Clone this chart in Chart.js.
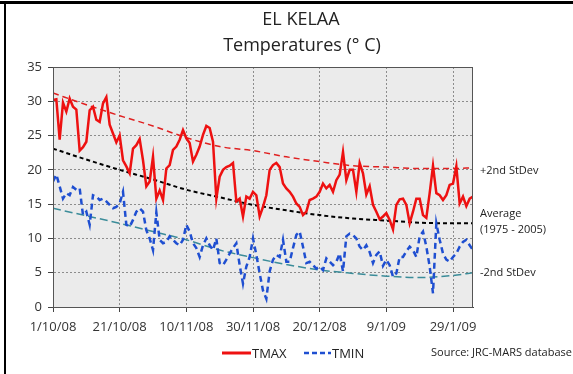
<!DOCTYPE html>
<html>
<head>
<meta charset="utf-8">
<script src="https://cdn.jsdelivr.net/npm/chart.js@4.4.1/dist/chart.umd.min.js"></script>
<style>
  html, body { margin: 0; padding: 0; background: #fff; }
  #wrap { position: relative; width: 573px; height: 374px; }
  #frameTop { position: absolute; left: 0; top: 1px; width: 573px; height: 3px; background: #000; }
  #frameLeft { position: absolute; left: 4px; top: 1px; width: 2px; height: 373px; background: #000; }
</style>
</head>
<body>
<div id="wrap">
  <canvas id="chart" width="573" height="374"></canvas>
  <div id="frameTop"></div>
  <div id="frameLeft"></div>
</div>
<script>
// x ticks every 20 days starting 1/10/08
const xLabels = ["1/10/08", "21/10/08", "10/11/08", "30/11/08", "20/12/08", "9/1/09", "29/1/09"];

// daily values, day 0 = 1/10/08
const tmax = [
  30.2, 30.3, 24.4, 29.8, 28.5, 30.4, 29.2, 28.8, 22.8, 23.3,
  24.1, 28.7, 29.2, 27.3, 27.0, 29.7, 30.6, 26.6, 25.3, 24.0,
  25.0, 21.4, 20.5, 19.5, 23.1, 23.6, 24.5, 21.4, 17.6, 18.3,
  21.9, 15.8, 17.0, 15.6, 20.2, 20.7, 22.9, 23.4, 24.4, 25.8,
  24.6, 23.9, 21.2, 22.2, 23.4, 25.1, 26.4, 26.1, 24.1, 15.8,
  19.0, 20.0, 20.4, 20.6, 21.0, 15.4, 15.8, 13.2, 16.1, 15.8,
  16.8, 16.3, 13.2, 14.6, 16.3, 20.0, 20.7, 21.0, 20.4, 18.0,
  17.3, 16.8, 16.1, 15.1, 14.6, 13.4, 13.9, 15.6, 15.8, 16.1,
  16.8, 18.0, 17.3, 17.8, 16.8, 18.5, 19.3, 22.6, 18.5, 20.0,
  20.0, 16.8, 21.0, 19.5, 16.4, 17.6, 14.9, 13.9, 12.8, 13.2,
  13.7, 12.7, 11.3, 14.9, 15.7, 15.8, 14.9, 12.2, 13.9, 15.8,
  15.8, 13.4, 13.0, 16.6, 20.6, 16.6, 16.3, 15.6, 16.3, 17.8,
  18.0, 20.5, 15.1, 16.1, 14.7, 15.8, 16.1
];

const tmin = [
  18.3, 19.3, 17.6, 15.8, 16.6, 16.3, 17.5, 17.1, 17.3, 13.4,
  13.9, 12.0, 16.3, 16.1, 15.6, 15.8, 15.4, 14.9, 14.4, 14.6,
  15.1, 16.8, 12.0, 11.7, 12.7, 13.9, 14.4, 13.9, 11.2, 10.0,
  8.3, 13.8, 9.8, 9.3, 9.5, 10.3, 9.8, 9.3, 9.0, 9.8,
  12.0, 11.0, 9.3, 8.6, 7.3, 9.0, 10.0, 9.0, 8.3, 10.0,
  6.4, 6.1, 6.9, 7.8, 8.6, 9.3, 6.1, 3.4, 5.9, 7.3,
  10.0, 7.6, 4.9, 2.4, 1.2, 5.2, 6.9, 7.6, 7.3, 9.8,
  6.6, 6.6, 8.6, 10.5, 11.0, 8.8, 6.4, 6.6, 6.1, 5.6,
  5.9, 5.4, 7.1, 6.6, 6.1, 6.6, 7.8, 5.2, 10.3, 10.7,
  10.5, 10.0, 8.8, 8.3, 9.0, 8.0, 6.4, 7.6, 8.1, 6.0,
  6.9, 6.1, 4.4, 4.9, 7.3, 7.3, 8.1, 8.8, 8.3, 7.3,
  10.3, 11.0, 8.8, 5.9, 2.0, 12.2, 9.8, 7.8, 6.9, 6.6,
  7.3, 7.8, 8.8, 9.5, 9.8, 9.0, 8.3
];

// long-term reference curves (1975 - 2005), read every 10 days
const refDays  = [0, 10, 20, 30, 40, 50, 60, 70, 80, 90, 100, 110, 120, 126];
const plus2sd  = [31.2, 29.5, 27.9, 26.4, 24.7, 23.4, 22.8, 21.9, 21.2, 20.6, 20.4, 20.2, 20.2, 20.3];
const average  = [23.1, 21.5, 20.0, 18.6, 17.1, 16.0, 14.9, 14.1, 13.4, 12.9, 12.6, 12.3, 12.2, 12.2];
const minus2sd = [14.4, 13.3, 12.2, 11.0, 9.8, 8.3, 7.2, 6.2, 5.4, 4.9, 4.5, 4.3, 4.6, 5.0];

const FONT = "'Open Sans', 'DejaVu Sans', sans-serif";
const RED = "#ee1111";
const BLUE = "#1f4fd1";

const daily = arr => arr.map((v, i) => ({ x: i, y: v }));
const ref = arr => arr.map((v, i) => ({ x: refDays[i], y: v }));

const decor = {
  id: "decor",
  beforeDraw(chart) {
    const { ctx, chartArea: a } = chart;
    ctx.save();
    ctx.fillStyle = "#ebebeb";
    ctx.fillRect(a.left, a.top, a.right - a.left, a.bottom - a.top);
    ctx.restore();
  },
  afterDraw(chart) {
    const { ctx, chartArea: a, scales } = chart;
    ctx.save();
    // plot frame
    ctx.strokeStyle = "#555";
    ctx.lineWidth = 1;
    ctx.strokeRect(a.left + 0.5, a.top + 0.5, a.right - a.left - 1, a.bottom - a.top);

    // title
    ctx.fillStyle = "#222";
    ctx.textAlign = "center";
    ctx.textBaseline = "middle";
    ctx.font = "18px " + FONT;
    ctx.fillText("EL KELAA", 301, 20);
    ctx.fillText("Temperatures (\u00b0 C)", 302, 46);

    // legend
    ctx.lineWidth = 3;
    ctx.strokeStyle = RED;
    ctx.beginPath(); ctx.moveTo(222, 353); ctx.lineTo(251, 353); ctx.stroke();
    ctx.strokeStyle = BLUE;
    ctx.lineWidth = 2.5;
    ctx.setLineDash([5, 3]);
    ctx.beginPath(); ctx.moveTo(304, 353); ctx.lineTo(331, 353); ctx.stroke();
    ctx.setLineDash([]);
    ctx.textAlign = "left";
    ctx.font = "13px " + FONT;
    ctx.fillStyle = "#222";
    ctx.fillText("TMAX", 252, 354);
    ctx.fillText("TMIN", 332, 354);

    ctx.font = "11px " + FONT;
    ctx.fillText("Source: JRC-MARS database", 431, 353);

    // labels at the end of the reference curves
    const y = scales.y;
    const xl = a.right + 7;
    ctx.fillText("+2nd StDev", xl, y.getPixelForValue(plus2sd[plus2sd.length - 1]) + 3);
    const ya = y.getPixelForValue(average[average.length - 1]);
    ctx.fillText("Average", xl, ya - 9);
    ctx.fillText("(1975 - 2005)", xl, ya + 7);
    ctx.fillText("-2nd StDev", xl, y.getPixelForValue(minus2sd[minus2sd.length - 1]));
    ctx.restore();
  }
};

new Chart(document.getElementById("chart"), {
  type: "line",
  data: {
    datasets: [
      { label: "TMAX", data: daily(tmax), borderColor: RED, borderWidth: 2.5, pointRadius: 0, tension: 0 },
      { label: "TMIN", data: daily(tmin), borderColor: BLUE, borderWidth: 2.5, borderDash: [6, 4], pointRadius: 0, tension: 0 },
      { label: "+2nd StDev", data: ref(plus2sd), borderColor: "#e02020", borderWidth: 1.5, borderDash: [6, 4], pointRadius: 0, cubicInterpolationMode: "monotone" },
      { label: "Average", data: ref(average), borderColor: "#000", borderWidth: 2, borderDash: [4, 3], pointRadius: 0, cubicInterpolationMode: "monotone" },
      { label: "-2nd StDev", data: ref(minus2sd), borderColor: "#3b8c99", borderWidth: 1.5, borderDash: [8, 4], pointRadius: 0, cubicInterpolationMode: "monotone" }
    ]
  },
  options: {
    responsive: false,
    animation: false,
    events: [],
    layout: { padding: { left: 0, right: 100, top: 67, bottom: 0 } },
    plugins: { legend: { display: false }, title: { display: false }, tooltip: { enabled: false } },
    scales: {
      x: {
        type: "linear",
        min: 0,
        max: tmax.length - 1,
        afterFit: s => { s.height = 67; },
        afterBuildTicks: s => { s.ticks = xLabels.map((_, i) => ({ value: i * 20 })); },
        ticks: {
          autoSkip: false,
          maxRotation: 0,
          padding: 7,
          color: "#333",
          font: { family: FONT, size: 13 },
          callback: v => xLabels[Math.round(v / 20)]
        },
        grid: { color: "#8c8c8c", lineWidth: 1, tickLength: 5, tickColor: "#444", tickBorderDash: [] },
        border: { color: "#444", dash: [2, 2] }
      },
      y: {
        min: 0,
        max: 35,
        afterFit: s => { s.width = 53; },
        ticks: { stepSize: 5, padding: 6, color: "#333", font: { family: FONT, size: 13 } },
        grid: { color: "#8c8c8c", lineWidth: 1, tickLength: 5, tickColor: "#444", tickBorderDash: [] },
        border: { color: "#444", dash: [2, 2] }
      }
    }
  },
  plugins: [decor]
});
</script>
</body>
</html>
